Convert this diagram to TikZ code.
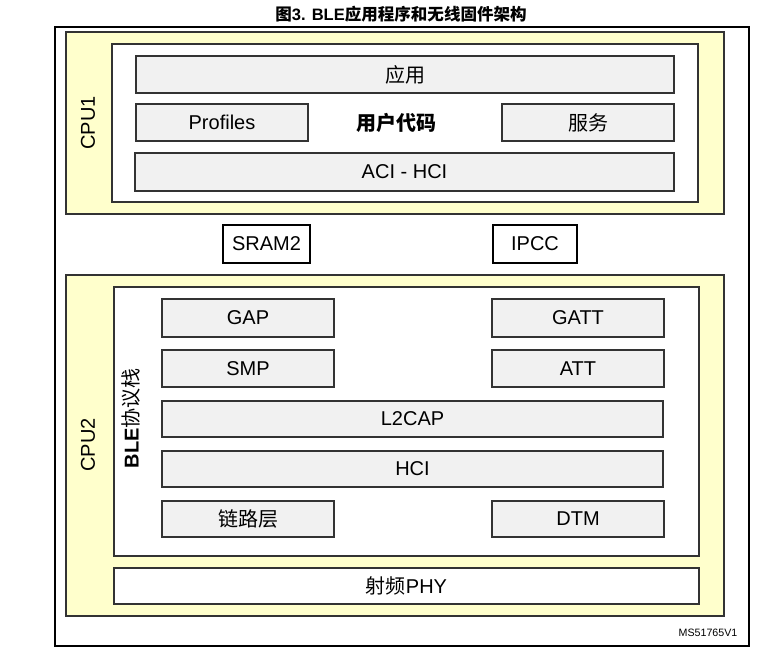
\documentclass[tikz,border=0pt]{standalone}
\usepackage{fontspec}
\setmainfont{Liberation Sans}
\newfontfamily\cjk{Noto Sans CJK SC}
\usetikzlibrary{fit}
\definecolor{cpuyellow}{HTML}{FFFFCC}
\definecolor{blockgray}{HTML}{F1F1F1}
\definecolor{edgegray}{HTML}{333333}
\newcommand{\boxfont}{\fontsize{15}{17}\selectfont}
\tikzset{
  cpubox/.style={draw=edgegray,fill=cpuyellow,line width=0.9pt,inner sep=0pt},
  areabox/.style={draw=edgegray,fill=white,line width=0.9pt,inner sep=0pt},
  block/.style={draw=edgegray,fill=blockgray,line width=0.9pt,inner sep=0pt},
  membox/.style={draw=black,fill=white,line width=0.8pt,inner sep=0pt},
  boxtext/.style={font=\boxfont,inner sep=0pt},
  sidelabel/.style={rotate=90,font=\boxfont}
}
\begin{document}
\begin{tikzpicture}[x=0.75pt,y=-0.75pt]
	%canvas
	\useasboundingbox (0,0) rectangle (784,659);
	\node[font=\bfseries\fontsize{12.4}{14}\selectfont] (title) at (401,14) {{\cjk 图}3. BLE{\cjk 应用程序和无线固件架构}};
	\node[draw=black,line width=0.8pt,inner sep=0pt,fit={(55,27) (749,646)}] (frame) {};

	%CPU1
	\node[cpubox,fit={(66,32) (724,214)}] (cpu1) {};
	\node[sidelabel] (cpu1label) at (88,123) {CPU1};
	\node[areabox,fit={(112,44) (698,202)}] (usercode) {};
	\node[block,fit={(136,56) (674,93)}] (app) {};
	\node[boxtext] (apptext) at (app.center) {\cjk 应用};
	\node[block,fit={(136,104) (308,141)}] (profiles) {};
	\node[boxtext] (profilestext) at (profiles.center) {Profiles};
	\node[block,fit={(502,104) (674,141)}] (service) {};
	\node[boxtext] (servicetext) at (service.center) {\cjk 服务};
	\node[font=\bfseries\boxfont] (usercodelabel) at (396,123) {\cjk 用户代码};
	\node[block,fit={(135,153) (674,191)}] (acihci) {};
	\node[boxtext] (acihcitext) at (acihci.center) {ACI - HCI};

	%shared memory
	\node[membox,fit={(223,225) (310,263)}] (sram2) {};
	\node[boxtext] (sram2text) at (sram2.center) {SRAM2};
	\node[membox,fit={(493,225) (577,263)}] (ipcc) {};
	\node[boxtext] (ipcctext) at (ipcc.center) {IPCC};

	%CPU2
	\node[cpubox,fit={(66,275) (724,616)}] (cpu2) {};
	\node[sidelabel] (cpu2label) at (88,445) {CPU2};
	\node[areabox,fit={(114,287) (699,556)}] (stack) {};
	\node[sidelabel,font=\bfseries\boxfont] (stacklabel) at (131,418) {BLE{\cjk\mdseries 协议栈}};
	\node[block,fit={(162,299) (334,337)}] (gap) {};
	\node[boxtext] (gaptext) at (gap.center) {GAP};
	\node[block,fit={(492,299) (664,337)}] (gatt) {};
	\node[boxtext] (gatttext) at (gatt.center) {GATT};
	\node[block,fit={(162,350) (334,387)}] (smp) {};
	\node[boxtext] (smptext) at (smp.center) {SMP};
	\node[block,fit={(492,350) (664,387)}] (att) {};
	\node[boxtext] (atttext) at (att.center) {ATT};
	\node[block,fit={(162,401) (663,437)}] (l2cap) {};
	\node[boxtext] (l2captext) at (l2cap.center) {L2CAP};
	\node[block,fit={(162,451) (663,487)}] (hci) {};
	\node[boxtext] (hcitext) at (hci.center) {HCI};
	\node[block,fit={(162,501) (334,537)}] (linklayer) {};
	\node[boxtext] (linklayertext) at (linklayer.center) {\cjk 链路层};
	\node[block,fit={(492,501) (664,537)}] (dtm) {};
	\node[boxtext] (dtmtext) at (dtm.center) {DTM};
	\node[areabox,fit={(114,568) (699,604)}] (phy) {};
	\node[boxtext] (phytext) at (phy.center) {{\cjk 射频}PHY};

	%reference
	\node[font=\fontsize{8}{10}\selectfont] (ref) at (708,633) {MS51765V1};
\end{tikzpicture}
\end{document}
